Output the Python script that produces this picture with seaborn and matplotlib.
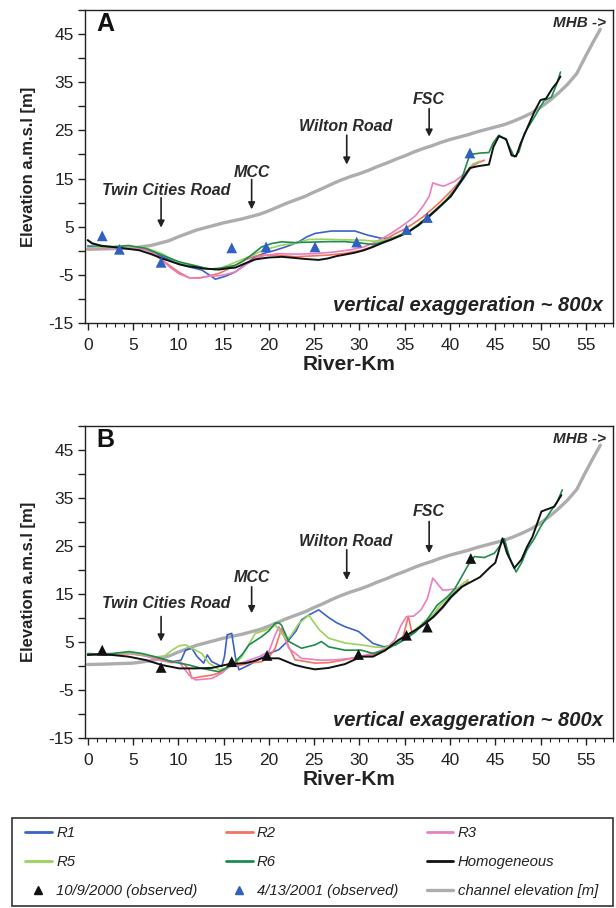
import matplotlib
matplotlib.use("Agg")
import matplotlib.pyplot as plt
from matplotlib.lines import Line2D
from matplotlib.patches import Rectangle
from matplotlib.ticker import MultipleLocator
import seaborn as sns

# ---------------- data ----------------
CH_KM = [0, 2, 5, 7, 8, 9, 10, 11, 12, 13, 14, 15, 16, 17, 18, 19, 20, 21, 22, 23, 24, 25, 26, 27, 28,
         29, 30, 31, 32, 33, 34, 35, 36, 37, 38, 39, 40, 41, 42, 43, 44, 45, 46, 47, 48, 49, 50, 51,
         52, 53, 54, 55, 56, 56.6]
CH_ELEV = [0.3, 0.4, 0.6, 1.1, 1.6, 2.1, 2.9, 3.6, 4.3, 4.8, 5.3, 5.8, 6.2, 6.6, 7.1, 7.6, 8.3, 9.1, 9.9,
           10.6, 11.3, 12.2, 13.0, 13.9, 14.7, 15.4, 16.0, 16.7, 17.5, 18.2, 19.0, 19.7, 20.5, 21.2,
           21.8, 22.5, 23.1, 23.6, 24.1, 24.7, 25.2, 25.7, 26.2, 26.9, 27.7, 28.6, 29.8, 31.2, 32.8,
           34.6, 36.8, 40.5, 44.0, 46.0]

# Panel A
A_HOM_KM = [0, 0.5, 1.5, 2.7, 4, 5.7, 7, 8.2, 9, 10.1, 11, 11.9, 12.8, 13.7, 14.5, 15.6, 16.3, 17.4, 18.5,
            19.2, 20, 21.1, 21.4, 22.9, 24, 25.5, 26.5, 27.5, 28.4, 29.5, 30.5, 31.5, 32.5, 33.5, 34.5,
            35.5, 36.4, 37.2, 38.1, 39, 40.1, 41.2, 42.2, 43.2, 44.3, 44.8, 45.4, 46.2, 46.8, 47.3, 47.8,
            48.6, 49.4, 50, 50.6, 51.3, 51.8, 52.2]
A_HOM_ELEV = [2.2, 1.5, 1.0, 0.8, 0.5, 0.1, -0.7, -1.6, -2.1, -2.8, -3.2, -3.4, -3.7, -3.8, -3.9, -3.6,
              -3.5, -2.6, -1.8, -1.6, -1.4, -1.3, -1.25, -1.5, -1.7, -1.9, -1.6, -1.1, -0.8, -0.4, 0.1,
              0.8, 1.6, 2.3, 3.1, 4.0, 5.2, 6.4, 7.9, 9.4, 11.3, 14.4, 17.2, 17.6, 17.9, 21.6, 23.8,
              23.2, 19.8, 19.6, 22.3, 25.8, 29.2, 31.3, 31.6, 33.7, 34.9, 36.2]
A_R6_KM = [0, 0.5, 1.5, 2.7, 4.5, 6.4, 8.2, 10.1, 11.9, 13.4, 14.8, 16.3, 17.0, 18.0, 19.2, 20.3, 21.4,
           22.9, 24.8, 26.6, 28.4, 30.2, 31.5, 32.5, 33.5, 34.5, 35.5, 36.5, 37.5, 38.5, 39.5, 40.5,
           41.3, 42.2, 43.4, 44.3, 44.8, 45.4, 46.2, 47.1, 47.6, 48.2, 49.3, 50.4, 51.2, 51.8, 52.2]
A_R6_ELEV = [2.2, 1.6, 1.1, 0.8, 1.1, 0.5, -0.9, -2.3, -3.1, -3.8, -3.6, -3.0, -2.3, -1.0, 0.8, 1.5,
             1.85, 1.7, 1.8, 1.9, 1.9, 1.6, 1.3, 1.8, 2.4, 3.2, 4.1, 5.3, 6.8, 8.5, 10.3, 12.6, 15.0,
             20.0, 20.3, 20.4, 22.5, 24.0, 23.0, 19.5, 20.5, 24.3, 27.7, 31.2, 31.9, 34.7, 37.1]
A_R5_KM = [0, 1, 2.7, 4.5, 6.4, 8.2, 10.1, 11.9, 14.1, 15.5, 17.8, 19.5, 21.4, 23, 24.4, 26, 28, 30.5,
           31.5, 32.5, 33.5, 34.5, 35.5, 36.5, 37.5, 38.5, 39.5, 40.5, 41.5, 42.5, 43.3]
A_R5_ELEV = [0.6, 0.7, 0.9, 0.9, 0.6, -0.6, -2.6, -3.3, -3.95, -3.0, -1.25, 0.2, 1.15, 1.6, 2.35, 2.4,
             2.3, 2.2, 2.0, 2.1, 2.5, 3.3, 4.2, 5.5, 7.0, 8.7, 10.5, 12.5, 15.5, 18.0, 18.6]
A_R1_KM = [0, 1, 2.7, 4.5, 6.4, 8.2, 10.1, 11.5, 12.6, 13.4, 14.1, 15.2, 16.3, 17.4, 18.5, 19.5, 20.7,
           22, 23.3, 24.2, 25.1, 26.9, 28, 29.5, 31, 32.4, 33.5, 34.5, 35.5, 36.5, 37.5, 38.5, 39.5,
           40.5, 41.5, 42.5, 43.3]
A_R1_ELEV = [1.0, 0.9, 0.8, 0.8, 0.3, -1.2, -2.8, -3.5, -4.0, -5.0, -5.9, -5.3, -4.4, -2.8, -1.25, -0.5,
             0.1, 0.9, 1.85, 2.9, 3.6, 4.1, 4.1, 4.1, 3.2, 2.6, 2.6, 3.2, 4.1, 5.2, 6.7, 8.4, 10.3,
             12.4, 15.0, 17.8, 18.5]
A_R2_KM = [0, 1, 2.7, 4.5, 6.4, 7.5, 8.2, 9.2, 10.1, 11.2, 12.3, 13.2, 14.5, 15.5, 16.5, 17.4, 18.3,
           19.2, 21, 22.9, 24.5, 26.6, 28.5, 30.2, 31.2, 32.1, 33.0, 33.9, 35, 36, 37, 38, 39, 40, 41,
           42, 43, 43.8]
A_R2_ELEV = [0.5, 0.6, 0.8, 0.7, 0.2, -0.7, -1.9, -3.3, -4.5, -5.6, -5.7, -5.3, -4.7, -3.8, -2.8, -1.9,
             -1.2, -0.9, -0.9, -1.25, -1.1, -0.9, -0.5, 0.1, 0.7, 1.5, 2.5, 3.5, 4.5, 5.7, 7.0, 8.6,
             10.3, 12.2, 14.2, 16.6, 18.2, 18.8]
A_R3_KM = [0, 1, 2.7, 4.5, 6.4, 7.5, 8.2, 9.2, 10.1, 11.2, 12.3, 13.5, 14.5, 15.5, 16.3, 17.4, 18.5,
           19.5, 21, 23, 25, 27, 29, 30.5, 31.5, 32.5, 33.3, 34.2, 35.2, 36.2, 37.0, 37.7, 38.1, 38.7,
           39.3, 40.0, 40.5, 41.2, 42.0, 42.8, 43.5]
A_R3_ELEV = [0.4, 0.5, 0.7, 0.7, 0.2, -0.8, -2.0, -3.6, -4.8, -5.6, -5.6, -5.3, -5.2, -4.8, -4.4, -3.0,
             -1.6, -1.0, -0.6, -0.7, -0.6, -0.3, 0.2, 0.8, 1.6, 2.5, 3.4, 4.5, 5.8, 7.3, 9.2, 11.3,
             14.1, 13.7, 13.4, 14.0, 14.4, 15.4, 16.8, 18.0, 18.6]
A_OBS_KM = [1.6, 3.5, 8.1, 15.9, 19.7, 25.1, 29.7, 35.2, 37.5, 42.2]
A_OBS_ELEV = [3.1, 0.3, -2.4, 0.6, 0.8, 0.8, 1.8, 4.4, 6.9, 20.3]

# Panel B
B_HOM_KM = [0, 1, 2.7, 4.5, 6.4, 8.2, 10.1, 11.9, 13.7, 15.6, 17.4, 18.3, 19.2, 21.1, 22.0, 22.9, 24,
            25.1, 26.6, 28.4, 30.2, 31.5, 32.8, 34.3, 35.2, 36.2, 37.2, 38.2, 39.2, 40.1, 41.3, 42.2,
            43.3, 44.5, 45.0, 45.8, 46.3, 47.1, 47.9, 48.5, 49.1, 50.1, 51.1, 51.5, 52.3]
B_HOM_ELEV = [2.3, 2.4, 2.3, 1.95, 1.25, 0.2, -0.5, -0.5, -0.4, 0.4, 0.6, 1.0, 1.6, 1.6, 0.9, 0.2,
              -0.3, -0.7, -0.4, 0.4, 1.95, 1.95, 3.2, 5.4, 6.4, 7.5, 8.8, 10.3, 12.3, 14.4, 16.5, 17.4,
              18.5, 20.7, 21.5, 26.6, 23.5, 20.4, 22.2, 24.8, 26.9, 32.2, 32.9, 33.2, 35.6]
B_R6_KM = [0, 1, 2.7, 4.6, 6, 7.5, 9.3, 11.2, 12.6, 14.5, 15.6, 16.3, 17.1, 17.8, 19.2, 20.0, 20.7,
           21.1, 21.4, 22.2, 23.6, 25.1, 25.8, 26.6, 28.4, 30.2, 31.5, 32.8, 33.9, 35.0, 36.2, 37.4,
           38.6, 39.7, 40.5, 41.2, 42.0, 42.7, 43.8, 44.9, 45.5, 46.0, 46.6, 47.3, 47.9, 48.5, 49.3,
           50.0, 51.1, 51.8, 52.4]
B_R6_ELEV = [2.6, 2.5, 2.6, 3.0, 2.6, 1.9, 0.9, 0.2, -0.5, -1.2, -0.1, 0.9, 2.5, 4.4, 6.1, 7.3, 8.9,
             9.0, 8.5, 5.1, 3.7, 4.4, 5.1, 4.0, 3.3, 3.3, 2.6, 3.3, 4.4, 5.5, 7.1, 9.5, 12.7, 14.4,
             16.0, 18.3, 21.0, 22.8, 22.6, 23.5, 25.0, 26.5, 22.5, 19.6, 21.5, 24.2, 26.5, 29.0, 32.2,
             34.0, 36.7]
B_R5_KM = [0, 1, 2.7, 4.6, 6, 7.5, 8.5, 9.3, 10.1, 10.8, 11.6, 12.6, 13.4, 14.5, 15.5, 16.3, 17.0, 17.8,
           18.5, 19.2, 20.0, 20.7, 21.3, 22.0, 22.5, 23.3, 24.4, 25.0, 25.6, 26.6, 28.4, 30.2, 31.5,
           32.8, 34.0, 35.2, 36.2, 37.2, 38.2, 38.8, 39.7, 40.5, 41.3, 42.0]
B_R5_ELEV = [2.5, 2.4, 2.5, 2.8, 2.4, 1.9, 2.1, 3.3, 4.2, 4.4, 3.6, 2.6, 0.6, -0.8, -0.3, 0.5, 1.9, 4.5,
             6.8, 7.2, 7.7, 8.5, 7.0, 5.5, 6.5, 8.8, 10.6, 9.0, 7.5, 5.8, 4.8, 4.4, 4.0, 3.8, 4.8, 6.3,
             7.6, 9.3, 10.8, 12.4, 14.0, 15.5, 17.0, 18.0]
B_R1_KM = [0, 1, 2.7, 4.6, 6.4, 8.2, 9.3, 10.3, 10.8, 11.5, 12.1, 12.8, 13.2, 13.7, 14.8, 15.1, 15.4,
           15.9, 16.3, 16.7, 17.8, 19.0, 20.0, 21.1, 22.2, 23.0, 23.6, 24.4, 25.5, 26.6, 27.5, 28.4,
           29.9, 31.5, 32.7, 34.0, 35.2, 36.2, 37.2, 38.2, 39.2, 40.1, 41.3, 42.0]
B_R1_ELEV = [2.5, 2.4, 2.5, 2.8, 2.2, 1.5, 0.9, 1.2, 3.3, 3.7, 1.9, 0.6, 2.3, 0.9, -0.1, 2.0, 6.5, 6.8,
             1.9, -0.8, 0.2, 1.5, 2.6, 3.4, 5.4, 7.3, 9.6, 10.6, 11.7, 10.1, 9.0, 8.2, 7.2, 4.7, 4.0,
             4.4, 5.9, 7.3, 8.7, 10.2, 12.1, 14.2, 16.4, 17.5]
B_R2_KM = [0, 1, 2.7, 4.6, 6.4, 8.2, 9.3, 10.1, 10.7, 11.2, 11.5, 12.6, 13.7, 14.8, 15.6, 16.5, 17.8,
           19.2, 20.0, 20.7, 21.4, 22.2, 22.9, 25.1, 26.6, 28.4, 30.2, 31.5, 32.8, 34.0, 34.8, 35.4,
           35.8, 36.5, 37.3, 38.2, 39.2, 40.1, 41.3, 42.0]
B_R2_ELEV = [2.4, 2.3, 2.4, 2.6, 2.1, 1.1, 0.7, 0.9, 0.3, -0.8, -2.6, -2.2, -1.9, -1.3, 0.2, 0.0, 0.6,
             0.9, 1.8, 3.7, 7.8, 4.0, 1.3, 0.6, 0.7, 1.3, 2.0, 2.3, 3.2, 4.8, 6.0, 10.3, 7.0, 7.8, 9.0,
             10.6, 12.4, 14.5, 16.5, 17.4]
B_R3_KM = [0, 1, 2.7, 4.6, 6.4, 8.2, 9.3, 10.1, 11.2, 11.9, 13.7, 14.8, 15.6, 16.5, 17.8, 19.0, 20.0,
           20.6, 21.1, 21.6, 22.2, 23.6, 25.8, 27.5, 29.0, 30.5, 31.8, 33.0, 33.9, 34.6, 35.2, 36.0,
           36.8, 37.5, 38.1, 38.6, 39.2, 40.0, 40.8, 41.3, 42.0]
B_R3_ELEV = [2.4, 2.3, 2.4, 2.6, 2.1, 1.1, 1.0, 0.8, -1.9, -2.9, -2.6, -1.5, -0.2, 0.3, 1.2, 2.0, 3.0,
             6.0, 8.2, 6.5, 3.7, 1.6, 1.2, 1.3, 1.6, 2.2, 2.8, 3.8, 5.4, 8.5, 10.3, 10.4, 11.7, 14.0,
             18.3, 17.2, 15.8, 15.9, 16.2, 16.5, 17.3]
B_OBS_KM = [1.6, 8.1, 15.9, 19.8, 29.9, 35.2, 37.5, 42.3]
B_OBS_ELEV = [3.3, -0.3, 0.9, 2.2, 2.4, 6.4, 8.1, 22.4]

SERIES_NAMES = ["R1", "R2", "R3", "R5", "R6", "Homogeneous"]
OBS_LABELS = ["10/9/2000 (observed)", "4/13/2001 (observed)"]
CH_LABEL = "channel elevation [m]"
LANDMARKS = ["Twin Cities Road", "MCC", "Wilton Road", "FSC"]
X_TICKS = [0, 5, 10, 15, 20, 25, 30, 35, 40, 45, 50, 55]
Y_TICKS = [-15, -5, 5, 15, 25, 35, 45]

# ---------------- style ----------------
COLORS = {"R1": "#3a62c8", "R2": "#f4725f", "R3": "#ea7fc0", "R5": "#9ad35c",
          "R6": "#1e8c4c", "Homogeneous": "#111111"}
GRAY = "#adadad"
OBS_BLUE = "#3060c0"

sns.set_theme(style="ticks")
plt.rcParams["font.family"] = ["Liberation Sans", "DejaVu Sans"]
plt.rcParams["axes.linewidth"] = 1.0
plt.rcParams["axes.edgecolor"] = "#222222"
plt.rcParams["axes.unicode_minus"] = False

fig = plt.figure(figsize=(6.16, 9.08), dpi=100)
W, H = 616.0, 908.0
axA = fig.add_axes([85 / W, 1 - 323 / H, 528 / W, 313 / H])
axB = fig.add_axes([85 / W, 1 - 738 / H, 528 / W, 312 / H])

panels = {
    "A": dict(ax=axA,
              series={"R1": (A_R1_KM, A_R1_ELEV), "R2": (A_R2_KM, A_R2_ELEV),
                      "R3": (A_R3_KM, A_R3_ELEV), "R5": (A_R5_KM, A_R5_ELEV),
                      "R6": (A_R6_KM, A_R6_ELEV), "Homogeneous": (A_HOM_KM, A_HOM_ELEV)},
              obs=(A_OBS_KM, A_OBS_ELEV), obs_color=OBS_BLUE,
              text_y=[12.6, 16.3, 25.9, 31.5], arrow=[(11.0, 4.8), (14.8, 8.6), (24.0, 17.9), (29.5, 23.7)]),
    "B": dict(ax=axB,
              series={"R1": (B_R1_KM, B_R1_ELEV), "R2": (B_R2_KM, B_R2_ELEV),
                      "R3": (B_R3_KM, B_R3_ELEV), "R5": (B_R5_KM, B_R5_ELEV),
                      "R6": (B_R6_KM, B_R6_ELEV), "Homogeneous": (B_HOM_KM, B_HOM_ELEV)},
              obs=(B_OBS_KM, B_OBS_ELEV), obs_color="#111111",
              text_y=[13.0, 18.4, 25.9, 32.1], arrow=[(10.3, 5.1), (16.5, 11.0), (24.2, 17.9), (30.1, 23.5)]),
}
LANDMARK_X = [8.7, 18.1, 28.5, 37.7]
ARROW_X = [8.1, 18.1, 28.6, 37.7]

for letter, p in panels.items():
    ax = p["ax"]
    sns.lineplot(x=CH_KM, y=CH_ELEV, ax=ax, color=GRAY, lw=2.4, sort=False,
                 estimator=None, legend=False, zorder=1)
    for name in SERIES_NAMES:
        xs, ys = p["series"][name]
        lw = 1.4 if name == "Homogeneous" else 1.2
        sns.lineplot(x=xs, y=ys, ax=ax, color=COLORS[name], lw=lw, sort=False,
                     estimator=None, legend=False, zorder=3 if name == "Homogeneous" else 2)
    ox, oy = p["obs"]
    sns.scatterplot(x=ox, y=oy, ax=ax, marker="^", s=60, color=p["obs_color"],
                    edgecolor="none", linewidth=0, legend=False, zorder=4)

    ax.set_xlim(-0.3, 58)
    ax.set_ylim(-15, 50)
    ax.set_xticks(X_TICKS)
    ax.set_yticks(Y_TICKS)
    ax.xaxis.set_minor_locator(MultipleLocator(1))
    ax.yaxis.set_minor_locator(MultipleLocator(5))
    ax.tick_params(axis="both", which="major", direction="out", length=5, width=1,
                   labelsize=12.5, colors="#222222", pad=3)
    ax.tick_params(axis="x", which="major", pad=6)
    ax.tick_params(axis="x", which="minor", direction="out", length=3, width=0.8, color="#222222")
    ax.tick_params(axis="y", which="minor", direction="out", length=5, width=1, color="#222222")
    for s in ax.spines.values():
        s.set_visible(True)
        s.set_color("#222222")
    ax.set_xlabel("River-Km", fontsize=15, fontweight="bold", labelpad=1, color="#222222")
    ax.set_ylabel("Elevation a.m.s.l [m]", fontsize=12, fontweight="bold", labelpad=9,
                  color="#222222")

    ax.text(0.022, 0.955, letter, transform=ax.transAxes, ha="left", va="center",
            fontsize=18, fontweight="bold", color="#111111")
    for lab, lx, ty, ax_x, (a0, a1) in zip(LANDMARKS, LANDMARK_X, p["text_y"], ARROW_X, p["arrow"]):
        ax.text(lx, ty, lab, ha="center", va="center", fontsize=11.5, fontweight="bold",
                style="italic", color="#2a2a2a")
        ax.annotate("", xy=(ax_x, a1), xytext=(ax_x, a0),
                    arrowprops=dict(arrowstyle="-|>", color="#222222", lw=1.2,
                                    mutation_scale=10, shrinkA=0, shrinkB=0))
    ax.text(57.2, 47.3, "MHB ->", ha="right", va="center", fontsize=11, fontweight="bold",
            style="italic", color="#2a2a2a")
    ax.text(56.9, -11.3, "vertical exaggeration ~ 800x", ha="right", va="center", fontsize=14.5,
            fontweight="bold", style="italic", color="#222222")

# ---------------- legend ----------------
fig.patches.append(Rectangle((12 / W, 1 - 906 / H), 601 / W, 88 / H, transform=fig.transFigure,
                             fill=False, edgecolor="#333333", lw=1.2, zorder=0))
handles = {name: Line2D([], [], color=COLORS[name], lw=2.0) for name in SERIES_NAMES}
h_obs1 = Line2D([], [], color="#111111", marker="^", ls="none", markersize=6)
h_obs2 = Line2D([], [], color=OBS_BLUE, marker="^", ls="none", markersize=6)
h_ch = Line2D([], [], color=GRAY, lw=2.4)
order_h = [handles["R1"], handles["R5"], h_obs1,
           handles["R2"], handles["R6"], h_obs2,
           handles["R3"], handles["Homogeneous"], h_ch]
order_l = ["R1", "R5", OBS_LABELS[0], "R2", "R6", OBS_LABELS[1], "R3", "Homogeneous", CH_LABEL]
leg = fig.legend(order_h, order_l, ncol=3, loc="center",
                 bbox_to_anchor=(25 / W, 1 - 906 / H, 573 / W, 88 / H), mode="expand",
                 frameon=False, prop={"style": "italic", "size": 10.7}, handlelength=1.8,
                 handletextpad=0.3, labelspacing=1.0, borderpad=0, borderaxespad=0,
                 columnspacing=1.0)
for t in leg.get_texts():
    t.set_color("#222222")

fig.savefig("out.png", dpi=100, facecolor="white")
